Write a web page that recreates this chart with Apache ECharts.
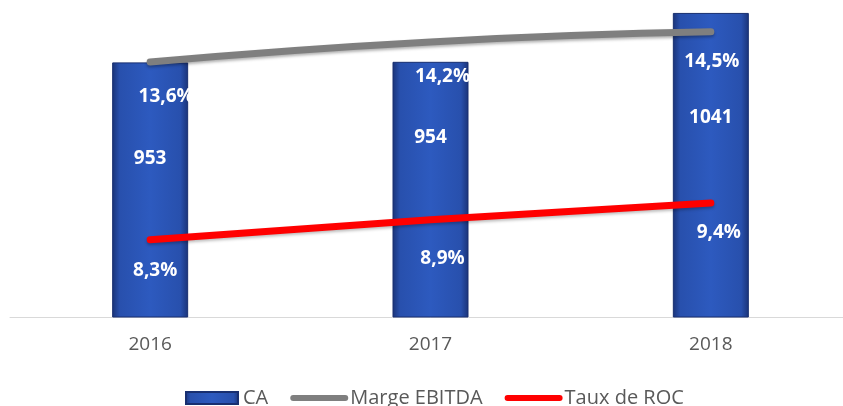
<!DOCTYPE html>
<html>
<head>
<meta charset="utf-8">
<script src="https://cdn.jsdelivr.net/npm/echarts@6/dist/echarts.min.js"></script>
<style>
html,body{margin:0;padding:0;background:#fff;overflow:hidden;width:843px;height:406px;}
#c{width:851px;height:406px;}
</style>
</head>
<body>
<div id="c"></div>
<script>
// ---- data ----
const years = ['2016', '2017', '2018'];
const ca = [953, 954, 1041];
const margeEbitda = [13.6, 14.2, 14.5];
const tauxRoc = [8.3, 8.9, 9.4];

// ---- label layout (pixel offsets, not data) ----
const caLabelDy = [96, 76, 105];
const margeLabelOffset = [[16, 35], [12, 35], [1, 30]];
const rocLabelOffset = [[5, 31], [12, 39], [8, 30]];

const pct = v => v.toFixed(1).replace('.', ',') + '%';
const FONT = '"Open Sans", "Liberation Sans", Arial, sans-serif';

const barGrad = new echarts.graphic.LinearGradient(0, 0, 1, 0, [
  { offset: 0, color: '#1a3378' },
  { offset: 0.1, color: '#2850ad' },
  { offset: 0.5, color: '#2d5abf' },
  { offset: 0.9, color: '#2850ad' },
  { offset: 1, color: '#1a3378' }
]);

const labelStyle = {
  color: '#ffffff',
  fontWeight: 'bold',
  fontSize: 19,
  fontFamily: FONT
};

const chart = echarts.init(document.getElementById('c'), null, { renderer: 'canvas' });
chart.setOption({
  animation: false,
  backgroundColor: '#ffffff',
  grid: { left: 10, right: 0, top: 0, bottom: 89, containLabel: false },
  xAxis: {
    type: 'category',
    data: years,
    axisLine: { show: true, lineStyle: { color: '#d9d9d9', width: 1 } },
    axisTick: { show: false },
    axisLabel: { color: '#595959', fontSize: 19, fontFamily: FONT, margin: 18 }
  },
  yAxis: [
    { type: 'value', min: 500, max: 1064, show: false, splitLine: { show: false } },
    { type: 'value', min: 6, max: 15.45, show: false, splitLine: { show: false } }
  ],
  legend: {
    left: 180,
    top: 383,
    itemWidth: 52,
    itemHeight: 12,
    itemGap: 22,
    textStyle: { color: '#595959', fontSize: 20, fontFamily: FONT },
    data: [
      { name: 'CA', icon: 'rect' },
      { name: 'Marge EBITDA', itemStyle: { opacity: 0 }, lineStyle: { width: 6, color: '#7f7f7f', cap: 'round' } },
      { name: 'Taux de ROC', itemStyle: { opacity: 0 }, lineStyle: { width: 6, color: '#ff0000', cap: 'round' } }
    ]
  },
  series: [
    {
      name: 'CA',
      type: 'bar',
      yAxisIndex: 0,
      barWidth: 76,
      itemStyle: { color: barGrad, borderColor: '#182f70', borderWidth: 1 },
      data: ca.map((v, i) => ({
        value: v,
        label: {
          show: true,
          position: ['50%', caLabelDy[i]],
          align: 'center',
          verticalAlign: 'middle',
          ...labelStyle
        }
      })),
      z: 1
    },
    {
      name: 'Marge EBITDA',
      type: 'line',
      yAxisIndex: 1,
      smooth: true,
      symbol: 'circle',
      symbolSize: 1,
      itemStyle: { color: '#7f7f7f' },
      lineStyle: {
        color: '#7f7f7f', width: 7, cap: 'round',
        shadowColor: 'rgba(0,0,0,0.3)', shadowBlur: 3, shadowOffsetY: 2
      },
      data: margeEbitda.map((v, i) => ({
        value: v,
        label: {
          show: true,
          position: 'inside',
          offset: margeLabelOffset[i],
          formatter: p => pct(p.value),
          ...labelStyle
        }
      })),
      z: 3
    },
    {
      name: 'Taux de ROC',
      type: 'line',
      yAxisIndex: 1,
      smooth: true,
      symbol: 'circle',
      symbolSize: 1,
      itemStyle: { color: '#ff0000' },
      lineStyle: {
        color: '#ff0000', width: 7, cap: 'round',
        shadowColor: 'rgba(0,0,0,0.25)', shadowBlur: 3, shadowOffsetY: 2
      },
      data: tauxRoc.map((v, i) => ({
        value: v,
        label: {
          show: true,
          position: 'inside',
          offset: rocLabelOffset[i],
          formatter: p => pct(p.value),
          ...labelStyle
        }
      })),
      z: 3
    }
  ]
});
</script>
</body>
</html>
